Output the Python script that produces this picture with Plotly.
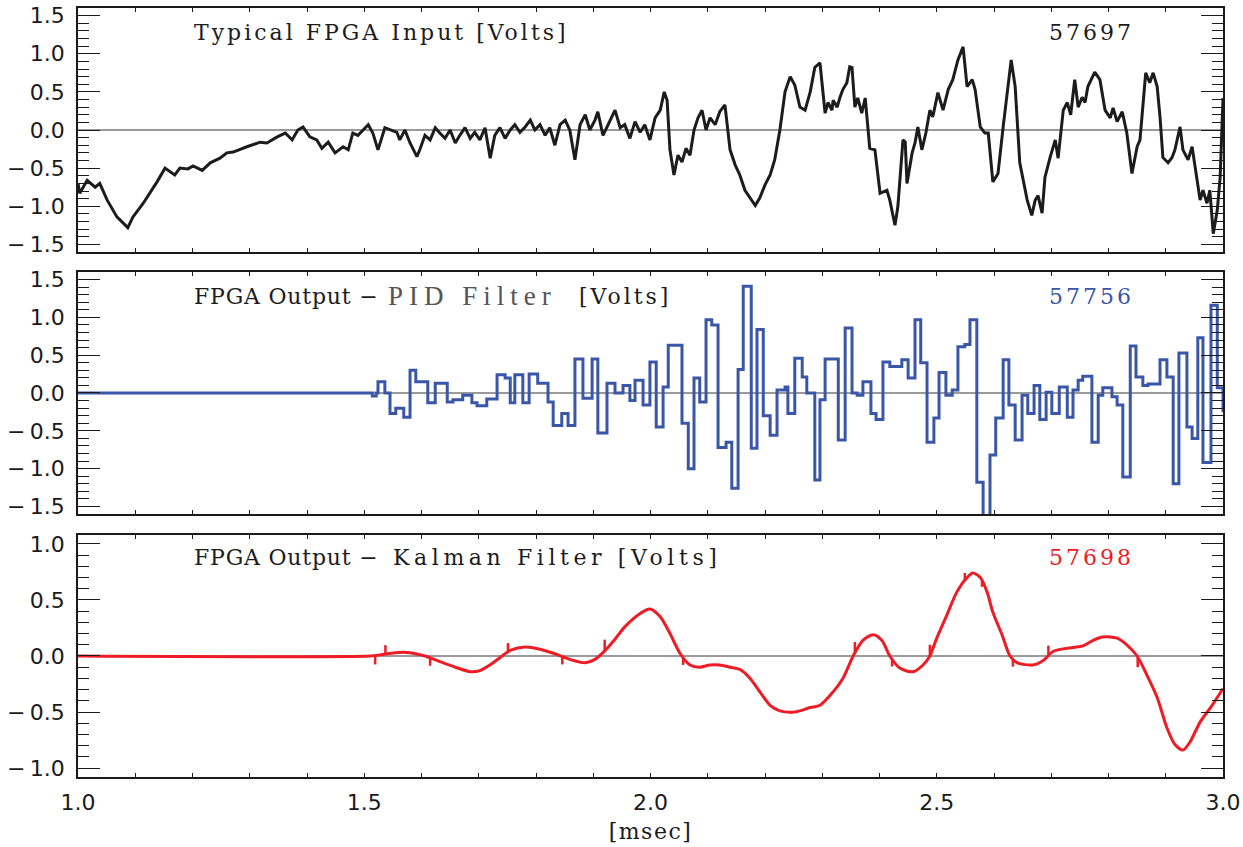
import numpy as np
import plotly.graph_objects as go

# ---------------- data ----------------
# Panel 1: typical FPGA input trace (time in msec, volts)
input_t = [
    1.000, 1.003, 1.016, 1.030, 1.038, 1.051, 1.068, 1.087, 1.096, 1.114,
    1.138, 1.152, 1.169, 1.178, 1.192, 1.201, 1.217, 1.231, 1.248, 1.260,
    1.271, 1.283, 1.295, 1.318, 1.330, 1.348, 1.362, 1.374, 1.384, 1.393,
    1.405, 1.417, 1.426, 1.437, 1.449, 1.463, 1.472, 1.480, 1.489, 1.498,
    1.507, 1.515, 1.524, 1.536, 1.548, 1.557, 1.562, 1.571, 1.580, 1.592,
    1.597, 1.606, 1.615, 1.624, 1.632, 1.641, 1.650, 1.659, 1.667, 1.676,
    1.685, 1.693, 1.702, 1.711, 1.720, 1.728, 1.737, 1.746, 1.755, 1.763,
    1.772, 1.781, 1.790, 1.798, 1.807, 1.816, 1.824, 1.833, 1.842, 1.851,
    1.859, 1.868, 1.877, 1.886, 1.894, 1.903, 1.908, 1.917, 1.926, 1.938,
    1.947, 1.955, 1.964, 1.973, 1.982, 1.990, 1.999, 2.008, 2.017, 2.024,
    2.029, 2.034, 2.041, 2.048, 2.055, 2.062, 2.069, 2.076, 2.083, 2.090,
    2.097, 2.104, 2.113, 2.121, 2.130, 2.139, 2.148, 2.156, 2.165, 2.174,
    2.183, 2.191, 2.200, 2.209, 2.217, 2.226, 2.235, 2.244, 2.252, 2.261,
    2.270, 2.279, 2.287, 2.296, 2.305, 2.310, 2.317, 2.319, 2.326, 2.331,
    2.336, 2.343, 2.348, 2.352, 2.357, 2.362, 2.369, 2.375, 2.383, 2.392,
    2.401, 2.413, 2.418, 2.427, 2.432, 2.441, 2.445, 2.448, 2.457, 2.462,
    2.467, 2.474, 2.481, 2.488, 2.493, 2.502, 2.511, 2.520, 2.528, 2.537,
    2.546, 2.553, 2.562, 2.567, 2.576, 2.584, 2.590, 2.598, 2.607, 2.616,
    2.630, 2.637, 2.645, 2.658, 2.666, 2.672, 2.677, 2.684, 2.689, 2.698,
    2.707, 2.712, 2.721, 2.728, 2.734, 2.741, 2.747, 2.754, 2.759, 2.764,
    2.776, 2.785, 2.794, 2.803, 2.808, 2.815, 2.824, 2.832, 2.841, 2.850,
    2.855, 2.865, 2.872, 2.878, 2.885, 2.890, 2.895, 2.904, 2.911, 2.916,
    2.925, 2.930, 2.939, 2.946, 2.951, 2.960, 2.965, 2.972, 2.977, 2.983,
    2.990, 2.995, 3.000,
]
input_v = [
    -0.70, -0.83, -0.66, -0.75, -0.70, -0.92, -1.14, -1.28, -1.14, -0.96,
    -0.68, -0.50, -0.59, -0.50, -0.51, -0.47, -0.53, -0.43, -0.37, -0.30,
    -0.29, -0.26, -0.22, -0.16, -0.17, -0.09, -0.04, -0.13, 0.00, 0.04,
    -0.09, -0.13, -0.24, -0.16, -0.30, -0.22, -0.26, -0.04, -0.07, 0.00,
    0.07, -0.04, -0.26, 0.03, 0.00, -0.03, -0.13, 0.00, -0.17, -0.35,
    -0.26, -0.07, -0.13, 0.03, -0.04, -0.11, 0.00, -0.17, -0.07, 0.03,
    -0.11, -0.03, -0.13, 0.03, -0.37, -0.07, 0.03, -0.11, 0.00, 0.07,
    -0.03, 0.04, 0.13, 0.00, 0.07, -0.07, 0.03, -0.20, 0.07, 0.13,
    0.00, -0.39, 0.07, 0.20, 0.00, 0.13, 0.24, -0.07, 0.07, 0.26,
    0.03, 0.07, -0.11, 0.11, -0.03, 0.07, -0.13, 0.16, 0.26, 0.50,
    0.39, -0.26, -0.59, -0.33, -0.42, -0.24, -0.33, 0.00, 0.16, 0.26,
    0.00, 0.16, 0.07, 0.24, 0.33, -0.26, -0.46, -0.59, -0.79, -0.89,
    -0.99, -0.89, -0.72, -0.59, -0.39, 0.00, 0.50, 0.70, 0.59, 0.30,
    0.26, 0.50, 0.82, 0.88, 0.22, 0.36, 0.26, 0.39, 0.30, 0.43,
    0.53, 0.62, 0.83, 0.82, 0.30, 0.42, 0.22, 0.42, -0.24, -0.26,
    -0.83, -0.79, -0.92, -1.25, -1.01, -0.13, -0.16, -0.70, -0.30, -0.17,
    0.04, -0.26, -0.04, 0.26, 0.17, 0.49, 0.26, 0.53, 0.66, 0.92,
    1.09, 0.57, 0.66, 0.53, 0.04, -0.04, -0.04, -0.68, -0.57, 0.04,
    0.92, 0.57, -0.43, -0.92, -1.12, -0.92, -0.86, -1.09, -0.62, -0.36,
    -0.13, -0.37, 0.26, 0.36, 0.20, 0.66, 0.30, 0.43, 0.36, 0.57,
    0.76, 0.66, 0.26, 0.16, 0.29, 0.11, 0.24, -0.04, -0.57, -0.22,
    -0.13, 0.75, 0.62, 0.75, 0.57, 0.17, -0.36, -0.43, -0.36, -0.26,
    0.04, -0.26, -0.39, -0.22, -0.49, -0.92, -0.79, -0.96, -0.79, -1.36,
    -1.05, -0.62, 0.42,
]

# Panel 2: PID filter output, held between update times (msec, volts)
pid_t = [
    1.000, 1.514, 1.521, 1.524, 1.536, 1.545, 1.555, 1.569, 1.580, 1.590,
    1.611, 1.624, 1.645, 1.655, 1.672, 1.688, 1.697, 1.714, 1.732, 1.746,
    1.755, 1.763, 1.777, 1.788, 1.803, 1.821, 1.830, 1.845, 1.856, 1.868,
    1.882, 1.898, 1.908, 1.924, 1.938, 1.952, 1.964, 1.973, 1.987, 1.999,
    2.010, 2.022, 2.031, 2.055, 2.066, 2.076, 2.086, 2.097, 2.107, 2.118,
    2.132, 2.142, 2.153, 2.162, 2.176, 2.186, 2.197, 2.209, 2.221, 2.235,
    2.240, 2.252, 2.265, 2.273, 2.287, 2.296, 2.305, 2.328, 2.340, 2.352,
    2.361, 2.371, 2.385, 2.394, 2.406, 2.418, 2.439, 2.450, 2.462, 2.472,
    2.483, 2.495, 2.504, 2.516, 2.527, 2.537, 2.549, 2.558, 2.570, 2.581,
    2.593, 2.603, 2.616, 2.626, 2.637, 2.649, 2.659, 2.670, 2.680, 2.691,
    2.701, 2.714, 2.728, 2.738, 2.747, 2.755, 2.771, 2.782, 2.790, 2.806,
    2.815, 2.825, 2.838, 2.848, 2.860, 2.869, 2.890, 2.902, 2.913, 2.923,
    2.937, 2.946, 2.956, 2.965, 2.979, 2.990, 3.000,
]
pid_v = [
    0.00, -0.04, 0.00, 0.15, 0.00, -0.27, -0.20, -0.32, 0.30, 0.15,
    -0.13, 0.13, -0.12, -0.09, -0.03, -0.13, -0.17, -0.08, 0.24, 0.20,
    -0.13, 0.24, -0.13, 0.25, 0.13, -0.12, -0.43, -0.27, -0.43, 0.45,
    -0.07, 0.45, -0.53, 0.13, 0.00, 0.10, -0.10, 0.17, -0.16, 0.41,
    -0.45, 0.08, 0.63, -0.40, -1.00, 0.20, -0.12, 0.97, 0.90, -0.72,
    -0.65, -1.26, 0.31, 1.41, -0.73, 0.84, -0.30, -0.56, 0.04, 0.08,
    -0.27, 0.46, 0.21, 0.00, -1.15, -0.09, 0.45, -0.62, 0.86, 0.00,
    -0.03, 0.15, -0.27, -0.35, 0.41, 0.35, 0.44, 0.20, 0.97, 0.40,
    -0.65, -0.33, 0.27, -0.03, 0.04, 0.61, 0.64, 0.97, -1.18, -1.70,
    -0.82, -0.33, 0.44, -0.16, -0.62, -0.03, -0.27, 0.10, -0.35, 0.01,
    -0.27, 0.08, -0.32, 0.04, 0.17, 0.22, -0.65, -0.03, 0.07, -0.05,
    -0.16, -1.11, 0.62, 0.21, 0.10, 0.12, 0.44, 0.21, -1.20, 0.53,
    -0.45, -0.60, 0.73, -0.92, 1.16, 0.07, -0.25,
]

# Panel 3: Kalman filter output (msec, volts)
kalman_t = [
    1.000, 1.510, 1.528, 1.554, 1.580, 1.606, 1.632, 1.659, 1.685, 1.702,
    1.728, 1.755, 1.781, 1.807, 1.833, 1.859, 1.886, 1.903, 1.921, 1.938,
    1.955, 1.982, 1.999, 2.017, 2.034, 2.052, 2.069, 2.086, 2.104, 2.121,
    2.139, 2.156, 2.174, 2.191, 2.209, 2.226, 2.252, 2.279, 2.296, 2.319,
    2.336, 2.354, 2.371, 2.389, 2.404, 2.418, 2.436, 2.459, 2.476, 2.488,
    2.500, 2.518, 2.535, 2.553, 2.563, 2.576, 2.588, 2.598, 2.614, 2.628,
    2.640, 2.668, 2.686, 2.703, 2.728, 2.755, 2.773, 2.790, 2.815, 2.832,
    2.850, 2.867, 2.885, 2.902, 2.916, 2.930, 2.942, 2.960, 2.981, 3.000,
]
kalman_v = [
    0.00, 0.00, 0.01, 0.03, 0.03, 0.00, -0.05, -0.10, -0.14, -0.13,
    -0.05, 0.05, 0.08, 0.06, 0.02, -0.03, -0.06, -0.03, 0.05, 0.15,
    0.26, 0.38, 0.42, 0.35, 0.20, 0.02, -0.08, -0.10, -0.08, -0.08,
    -0.10, -0.12, -0.20, -0.32, -0.44, -0.49, -0.50, -0.46, -0.44, -0.32,
    -0.20, 0.00, 0.14, 0.19, 0.14, 0.00, -0.11, -0.14, -0.08, 0.00,
    0.16, 0.37, 0.57, 0.70, 0.74, 0.70, 0.57, 0.39, 0.19, 0.00,
    -0.06, -0.08, -0.04, 0.04, 0.07, 0.09, 0.14, 0.17, 0.16, 0.10,
    0.00, -0.17, -0.37, -0.64, -0.79, -0.84, -0.77, -0.59, -0.44, -0.29,
]
# short glitches in the Kalman output (msec, volts of excursion)
glitch_t = [1.519, 1.537, 1.615, 1.751, 1.846, 1.920, 2.057, 2.357, 2.422,
            2.488, 2.549, 2.579, 2.633, 2.695, 2.851]
glitch_dv = [-0.08, 0.08, -0.07, 0.08, -0.07, 0.10, -0.07, 0.10, -0.07,
             0.10, 0.07, -0.05, -0.07, 0.09, -0.09]

# panel labels: (text, left pixel, style) pieces, and shot numbers
title_pieces = [
    [("Typical FPGA Input [Volts]", 192, "main")],
    [("FPGA Output \u2212", 192, "tight"), ("PID Filter", 386, "alt"), ("[Volts]", 577, "main")],
    [("FPGA Output \u2212", 192, "tight"), ("Kalman Filter [Volts]", 391, "wide")],
]
shots = ["57697", "57756", "57698"]
colors = ["#1c1c1c", "#3a56a8", "#ee1d25"]
x_label_ticks = [1.0, 1.5, 2.0, 2.5, 3.0]

# ---------------- figure ----------------
fig = go.Figure()

fig.add_trace(go.Scatter(x=input_t, y=input_v, mode="lines", xaxis="x", yaxis="y",
                         line=dict(color=colors[0], width=3), showlegend=False))
fig.add_trace(go.Scatter(x=pid_t, y=pid_v, mode="lines", xaxis="x2", yaxis="y2",
                         line=dict(color=colors[1], width=3, shape="hv"), showlegend=False))
fig.add_trace(go.Scatter(x=kalman_t, y=kalman_v, mode="lines", xaxis="x3", yaxis="y3",
                         line=dict(color=colors[2], width=3, shape="spline", smoothing=0.8),
                         showlegend=False))

# glitch marks as short vertical strokes on the Kalman curve
gx, gy = [], []
for t, dv in zip(glitch_t, glitch_dv):
    base = float(np.interp(t, kalman_t, kalman_v))
    gx += [t, t, None]
    gy += [base, base + dv, None]
fig.add_trace(go.Scatter(x=gx, y=gy, mode="lines", xaxis="x3", yaxis="y3",
                         line=dict(color=colors[2], width=2.5), showlegend=False))

W, H = 1243, 847
ml, mr, mt, mb = 78, 20, 8, 70
domains = [[0.6827, 1.0], [0.342, 0.6567], [0.0, 0.3147]]
yranges = [[-1.6, 1.6], [-1.6, 1.6], [-1.08, 1.08]]
ymajor = [[-1.5, -1.0, -0.5, 0.0, 0.5, 1.0, 1.5],
          [-1.5, -1.0, -0.5, 0.0, 0.5, 1.0, 1.5],
          [-1.0, -0.5, 0.0, 0.5, 1.0]]


def tick_label(v):
    s = f"{abs(v):.1f}"
    return ("\u2212\u2009" + s) if v < 0 else s


xtick_vals = [round(1.0 + 0.1 * i, 1) for i in range(21)]
xtick_text = [f"{v:.1f}" if v in x_label_ticks else "" for v in xtick_vals]

tickfont = dict(family="DejaVu Sans, sans-serif", size=22, color="#1a1a1a")
serif = "DejaVu Serif, serif"

layout = dict(width=W, height=H, margin=dict(l=ml, r=mr, t=mt, b=mb, autoexpand=False),
              paper_bgcolor="white", plot_bgcolor="white", showlegend=False)

for i in range(3):
    sfx = "" if i == 0 else str(i + 1)
    xa = dict(domain=[0, 1], range=[1.0, 3.0], anchor="y" + sfx, automargin=False,
              showline=True, linecolor="#1a1a1a", linewidth=1.6, mirror="ticks",
              ticks="inside", ticklen=4, tickwidth=1, tickcolor="#1a1a1a",
              tickmode="array", tickvals=xtick_vals, ticktext=xtick_text,
              showticklabels=(i == 2), tickfont=tickfont, ticklabelstandoff=5,
              showgrid=False, zeroline=False)
    if i == 2:
        xa["title"] = dict(text="<span style='letter-spacing:1.5px'>[msec]</span>",
                           font=dict(family=serif, size=22, color="#1a1a1a"),
                           standoff=9)
    else:
        xa["matches"] = "x3"
    ya = dict(domain=domains[i], range=yranges[i], anchor="x" + sfx, automargin=False,
              showline=True, linecolor="#1a1a1a", linewidth=1.6, mirror="ticks",
              ticks="inside", ticklen=22, tickwidth=1.2, tickcolor="#1a1a1a",
              tickmode="array", tickvals=ymajor[i],
              ticktext=[tick_label(v) for v in ymajor[i]],
              tickfont=tickfont, ticklabelstandoff=7, showgrid=False,
              zeroline=True, zerolinecolor="#9a9a9a", zerolinewidth=1.5,
              minor=dict(dtick=0.1, tick0=0, ticks="inside", ticklen=11,
                         tickwidth=1.2, tickcolor="#1a1a1a", showgrid=False))
    layout["xaxis" + sfx] = xa
    layout["yaxis" + sfx] = ya

fig.update_layout(**layout)

plot_h = H - mt - mb
plot_w = W - ml - mr
title_rows = [32, 296, 557]
styles = {
    "main": "letter-spacing:3px",
    "tight": "letter-spacing:0.8px",
    "wide": "letter-spacing:4.6px",
    "alt": "font-family:'Liberation Serif',serif;font-size:27px;color:#555555;letter-spacing:6px",
}
annotations = []
for i in range(3):
    yp = (H - mb - title_rows[i]) / plot_h
    for piece, px, kind in title_pieces[i]:
        annotations.append(dict(
            text=f"<span style=\"{styles[kind]}\">{piece}</span>",
            xref="paper", yref="paper", x=(px - ml) / plot_w, y=yp,
            xanchor="left", yanchor="middle", showarrow=False,
            font=dict(family=serif, size=22, color="#1c1c1c")))
    annotations.append(dict(
        text=f"<span style='letter-spacing:3px'>{shots[i]}</span>",
        xref="paper", yref="paper", x=(1136 - ml) / plot_w, y=yp,
        xanchor="right", yanchor="middle", showarrow=False,
        font=dict(family=serif, size=22, color=colors[i])))
fig.update_layout(annotations=annotations)

fig.write_html("out.html")
